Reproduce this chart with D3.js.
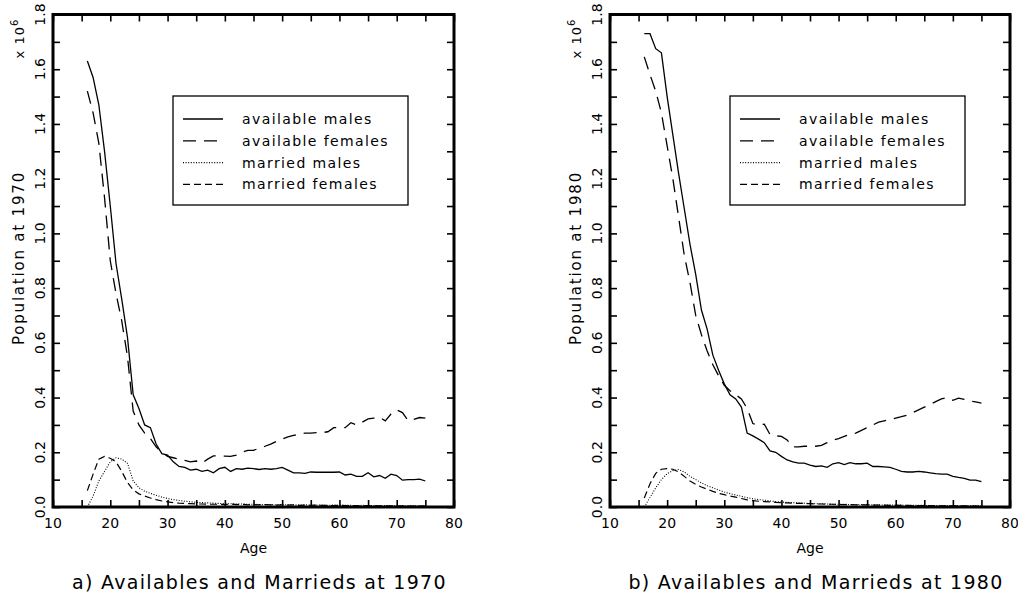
<!DOCTYPE html>
<html>
<head>
<meta charset="utf-8">
<script src="https://cdn.jsdelivr.net/npm/d3@7"></script>
<style>
  body { margin: 0; background: #fff; }
  text { font-family: "DejaVu Sans", sans-serif; fill: #000; }
</style>
</head>
<body>
<div id="chart"></div>
<script>
// ages 16..75, one point per year
const ages = [16,17,18,19,20,21,22,23,24,25,26,27,28,29,30,31,32,33,34,35,
  36,37,38,39,40,41,42,43,44,45,46,47,48,49,50,51,52,53,54,55,
  56,57,58,59,60,61,62,63,64,65,66,67,68,69,70,71,72,73,74,75];

// population in millions (x 10^6)
const availMales1970 = [1.63,1.57,1.47,1.30,1.10,0.89,0.76,0.62,0.41,0.36,
  0.30,0.29,0.23,0.195,0.19,0.165,0.148,0.145,0.135,0.138,
  0.13,0.135,0.125,0.14,0.145,0.13,0.14,0.138,0.142,0.14,
  0.137,0.14,0.138,0.14,0.145,0.135,0.125,0.125,0.123,0.128,
  0.127,0.127,0.127,0.127,0.128,0.117,0.12,0.112,0.112,0.125,
  0.11,0.115,0.105,0.12,0.115,0.098,0.1,0.1,0.102,0.095];
const availFemales1970 = [1.52,1.44,1.33,1.13,0.90,0.78,0.68,0.55,0.35,0.30,
  0.27,0.25,0.22,0.20,0.185,0.18,0.175,0.17,0.165,0.168,
  0.16,0.175,0.187,0.186,0.186,0.185,0.19,0.20,0.207,0.207,
  0.215,0.222,0.23,0.24,0.248,0.256,0.262,0.265,0.27,0.27,
  0.272,0.272,0.275,0.29,0.29,0.29,0.308,0.30,0.31,0.322,
  0.325,0.328,0.315,0.34,0.355,0.345,0.315,0.32,0.327,0.325];
const marriedMales1970 = [0.0,0.04,0.095,0.13,0.165,0.18,0.175,0.16,0.095,0.07,
  0.058,0.05,0.043,0.036,0.031,0.027,0.024,0.021,0.019,0.017,
  0.016,0.015,0.014,0.013,0.012,0.012,0.011,0.011,0.010,0.010,
  0.009,0.009,0.009,0.008,0.009,0.008,0.008,0.007,0.008,0.007,
  0.007,0.007,0.006,0.007,0.006,0.006,0.006,0.005,0.006,0.005,
  0.005,0.005,0.005,0.004,0.005,0.004,0.004,0.004,0.004,0.004];
const marriedFemales1970 = [0.06,0.12,0.175,0.185,0.178,0.165,0.13,0.09,0.062,0.048,
  0.04,0.033,0.027,0.022,0.019,0.016,0.014,0.013,0.012,0.011,
  0.011,0.010,0.010,0.010,0.009,0.011,0.009,0.010,0.008,0.009,
  0.008,0.009,0.008,0.007,0.008,0.007,0.008,0.006,0.007,0.006,
  0.007,0.006,0.006,0.005,0.006,0.005,0.005,0.005,0.004,0.005,
  0.004,0.004,0.004,0.004,0.003,0.004,0.003,0.003,0.003,0.003];

const availMales1980 = [1.73,1.73,1.675,1.66,1.50,1.36,1.22,1.09,0.96,0.85,
  0.72,0.65,0.555,0.50,0.45,0.41,0.395,0.365,0.27,0.26,
  0.248,0.235,0.205,0.20,0.185,0.172,0.165,0.16,0.16,0.153,
  0.148,0.15,0.145,0.158,0.162,0.155,0.162,0.158,0.158,0.16,
  0.148,0.148,0.147,0.145,0.138,0.13,0.128,0.128,0.13,0.128,
  0.125,0.122,0.12,0.12,0.112,0.108,0.105,0.098,0.098,0.093];
const availFemales1980 = [1.645,1.58,1.52,1.44,1.32,1.20,1.06,0.92,0.82,0.70,
  0.63,0.57,0.52,0.48,0.445,0.425,0.41,0.395,0.36,0.305,
  0.30,0.303,0.265,0.26,0.258,0.245,0.22,0.22,0.222,0.222,
  0.222,0.225,0.235,0.244,0.25,0.258,0.265,0.27,0.28,0.29,
  0.30,0.31,0.315,0.32,0.325,0.33,0.336,0.345,0.355,0.365,
  0.375,0.385,0.395,0.40,0.39,0.398,0.393,0.388,0.384,0.38];
const marriedMales1980 = [0.0,0.035,0.07,0.1,0.122,0.133,0.137,0.128,0.112,0.1,
  0.088,0.078,0.07,0.062,0.055,0.049,0.044,0.039,0.034,0.03,
  0.027,0.025,0.022,0.02,0.018,0.017,0.016,0.015,0.014,0.013,
  0.012,0.012,0.011,0.010,0.010,0.010,0.009,0.009,0.009,0.008,
  0.008,0.008,0.007,0.007,0.007,0.007,0.006,0.006,0.006,0.006,
  0.005,0.005,0.005,0.005,0.005,0.005,0.004,0.004,0.004,0.004];
const marriedFemales1980 = [0.033,0.085,0.123,0.138,0.14,0.138,0.128,0.112,0.095,0.083,
  0.073,0.065,0.057,0.05,0.045,0.04,0.036,0.031,0.026,0.023,
  0.021,0.02,0.019,0.017,0.016,0.015,0.014,0.013,0.013,0.012,
  0.011,0.011,0.010,0.010,0.009,0.009,0.009,0.008,0.008,0.008,
  0.007,0.007,0.007,0.006,0.006,0.006,0.006,0.005,0.005,0.005,
  0.005,0.005,0.004,0.004,0.004,0.004,0.004,0.003,0.003,0.003];

const seriesNames = ["available males", "available females", "married males", "married females"];
const xTicks = [10,15,20,25,30,35,40,45,50,55,60,65,70,75,80];
const xLabels = [10,20,30,40,50,60,70,80];
const yTicks = [0,0.1,0.2,0.3,0.4,0.5,0.6,0.7,0.8,0.9,1.0,1.1,1.2,1.3,1.4,1.5,1.6,1.7,1.8];
const yLabels = [0,0.2,0.4,0.6,0.8,1.0,1.2,1.4,1.6,1.8];

// line styles per series, same order as seriesNames
const dashes = [null, "13,8", "1,1.6", "7,4"];
const widths = [1.3, 1.3, 1.1, 1.2];

const W = 1018, H = 597;
const svg = d3.select("#chart").append("svg")
  .attr("width", W).attr("height", H);

function drawPanel(opt) {
  const x = d3.scaleLinear().domain([10, 80]).range([opt.left, opt.right]);
  const y = d3.scaleLinear().domain([0, 1.8]).range([opt.bottom, opt.top]);
  const g = svg.append("g");

  // inward ticks on all four sides
  const tick = 7;
  g.append("g").attr("transform", `translate(0,${opt.bottom})`)
    .call(d3.axisBottom(x).tickValues(xTicks).tickSizeInner(-tick).tickSizeOuter(0).tickFormat(""));
  g.append("g").attr("transform", `translate(0,${opt.top})`)
    .call(d3.axisTop(x).tickValues(xTicks).tickSizeInner(-tick).tickSizeOuter(0).tickFormat(""));
  g.append("g").attr("transform", `translate(${opt.left},0)`)
    .call(d3.axisLeft(y).tickValues(yTicks).tickSizeInner(-tick).tickSizeOuter(0).tickFormat(""));
  g.append("g").attr("transform", `translate(${opt.right},0)`)
    .call(d3.axisRight(y).tickValues(yTicks).tickSizeInner(-tick).tickSizeOuter(0).tickFormat(""));
  g.selectAll(".domain").remove();
  g.selectAll(".tick line").attr("stroke", "#000").attr("stroke-width", 1.6);

  // curves
  const line = d3.line().x((d, i) => x(ages[i])).y(d => y(d));
  opt.series.forEach((s, k) => {
    g.append("path")
      .attr("d", line(s))
      .attr("fill", "none")
      .attr("stroke", "#000")
      .attr("stroke-width", widths[k])
      .attr("stroke-dasharray", dashes[k]);
  });

  // frame
  g.append("rect")
    .attr("x", opt.left).attr("y", opt.top)
    .attr("width", opt.right - opt.left).attr("height", opt.bottom - opt.top)
    .attr("fill", "none").attr("stroke", "#000").attr("stroke-width", 3);

  // tick labels
  g.selectAll("text.xl").data(xLabels).enter().append("text")
    .attr("x", d => x(d)).attr("y", opt.bottom + 21)
    .attr("text-anchor", "middle").style("font-size", "14px")
    .text(d => d);
  g.selectAll("text.yl").data(yLabels).enter().append("text")
    .attr("transform", d => `translate(${opt.left - 8},${y(d)}) rotate(-90)`)
    .attr("text-anchor", "middle").style("font-size", "14px")
    .text(d => d3.format(".1f")(d));

  // x 10^6 multiplier
  const mult = g.append("text")
    .attr("transform", `translate(${opt.left - 29},${opt.top + 24}) rotate(-90)`)
    .attr("text-anchor", "middle").style("font-size", "13px").style("letter-spacing", "1px");
  mult.append("tspan").text("x 10");
  mult.append("tspan").attr("dy", -6).style("font-size", "10px").text("6");

  // axis titles
  g.append("text")
    .attr("transform", `translate(${opt.left - 29},${y(0.91)}) rotate(-90)`)
    .attr("text-anchor", "middle").style("font-size", "15px").style("letter-spacing", "1.8px")
    .text(opt.ylabel);
  g.append("text")
    .attr("x", (opt.left + opt.right) / 2).attr("y", opt.bottom + 46)
    .attr("text-anchor", "middle").style("font-size", "14px")
    .text("Age");
  g.append("text")
    .attr("x", (opt.left + opt.right) / 2 + 6).attr("y", opt.bottom + 82)
    .attr("text-anchor", "middle").style("font-size", "19px").style("letter-spacing", "1.3px")
    .text(opt.caption);

  // legend
  const lx = opt.left + 120, ly = 96;
  const lg = g.append("g").attr("transform", `translate(${lx},${ly})`);
  lg.append("rect").attr("width", 235).attr("height", 109)
    .attr("fill", "#fff").attr("stroke", "#000").attr("stroke-width", 1.3);
  seriesNames.forEach((name, k) => {
    const yy = 23 + k * 21.8;
    lg.append("line")
      .attr("x1", 10).attr("x2", 50).attr("y1", yy).attr("y2", yy)
      .attr("stroke", "#000").attr("stroke-width", widths[k])
      .attr("stroke-dasharray", dashes[k]);
    lg.append("text")
      .attr("x", 69).attr("y", yy + 5)
      .style("font-size", "14px").style("letter-spacing", "1.4px")
      .text(name);
  });
}

drawPanel({
  left: 53, right: 454, top: 14.5, bottom: 507,
  series: [availMales1970, availFemales1970, marriedMales1970, marriedFemales1970],
  ylabel: "Population at 1970",
  caption: "a) Availables and Marrieds at 1970"
});
drawPanel({
  left: 610, right: 1010, top: 14.5, bottom: 507,
  series: [availMales1980, availFemales1980, marriedMales1980, marriedFemales1980],
  ylabel: "Population at 1980",
  caption: "b) Availables and Marrieds at 1980"
});
</script>
</body>
</html>
